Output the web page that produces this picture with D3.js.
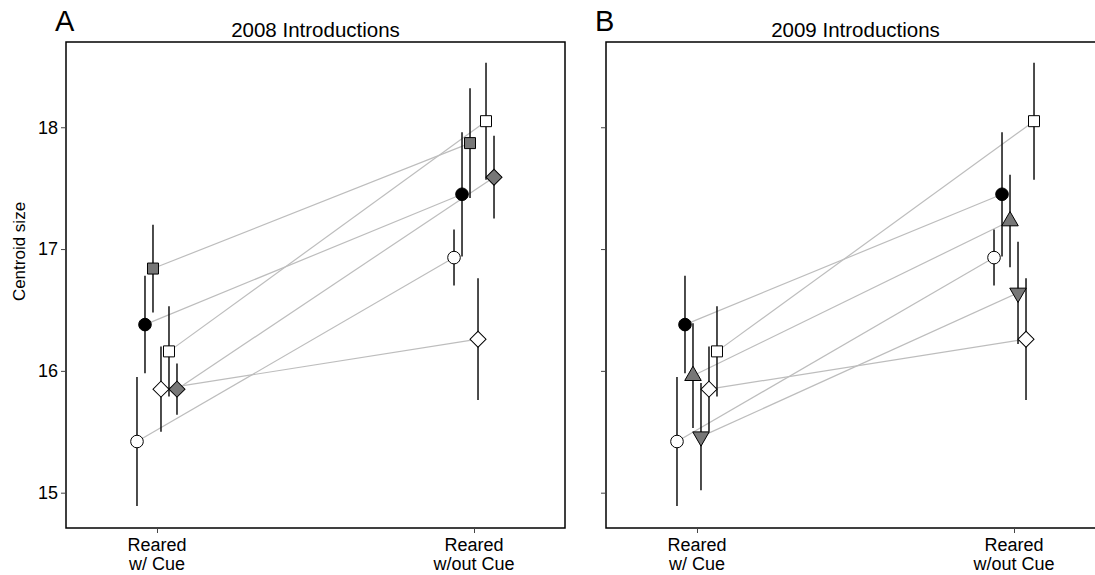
<!DOCTYPE html>
<html>
<head>
<meta charset="utf-8">
<script src="https://cdn.jsdelivr.net/npm/d3@7"></script>
<style>
  body { margin: 0; background: #fff; }
  text { font-family: "Liberation Sans", Arial, Helvetica, sans-serif; }
</style>
</head>
<body>
<svg id="chart" width="1095" height="575"></svg>
<script>
// Treatments along x, and y ticks
const treatments = [["Reared", "w/ Cue"], ["Reared", "w/out Cue"]];
const yTicks = [15, 16, 17, 18];

// 2008 populations (marker style for each), means and error half-widths
const popsA = ["openCircle", "blackCircle", "graySquare", "openDiamond", "openSquare", "grayDiamond"];
const meanA_cue   = [15.42, 16.38, 16.84, 15.85, 16.16, 15.85];
const errA_cue    = [0.53, 0.40, 0.36, 0.35, 0.37, 0.21];
const meanA_nocue = [16.93, 17.45, 17.87, 16.26, 18.05, 17.59];
const errA_nocue  = [0.23, 0.51, 0.45, 0.50, 0.48, 0.34];

// 2009 populations
const popsB = ["openCircle", "blackCircle", "grayUp", "grayDown", "openDiamond", "openSquare"];
const meanB_cue   = [15.42, 16.38, 15.96, 15.46, 15.85, 16.16];
const errB_cue    = [0.53, 0.40, 0.43, 0.44, 0.35, 0.37];
const meanB_nocue = [16.93, 17.45, 17.23, 16.64, 16.26, 18.05];
const errB_nocue  = [0.23, 0.51, 0.38, 0.42, 0.50, 0.48];

// How each marker looks
const markerStyle = {
  openCircle:  {type: d3.symbolCircle,   size: 125, fill: "#fff", rot: 0},
  blackCircle: {type: d3.symbolCircle,   size: 125, fill: "#000", rot: 0},
  graySquare:  {type: d3.symbolSquare,   size: 121, fill: "#777", rot: 0},
  openSquare:  {type: d3.symbolSquare,   size: 121, fill: "#fff", rot: 0},
  openDiamond: {type: d3.symbolSquare,   size: 128, fill: "#fff", rot: 45},
  grayDiamond: {type: d3.symbolSquare,   size: 128, fill: "#777", rot: 45},
  grayUp:      {type: d3.symbolTriangle, size: 118, fill: "#777", rot: 0},
  grayDown:    {type: d3.symbolTriangle, size: 118, fill: "#777", rot: 180}
};

const svg = d3.select("#chart");
const panelW = 499, panelH = 486, marginTop = 42;

const y = d3.scaleLinear().domain([14.71, 18.70]).range([panelH, 0]);
const x = d3.scaleLinear().domain([0.713, 2.287]).range([0, panelW]);

function drawPanel(left, pops, means, errs, title, letter, showLabels) {
  const g = svg.append("g").attr("transform", "translate(" + left + "," + marginTop + ")");
  const offset = d3.scalePoint().domain(pops).range([-20, 20]);

  // rows: one per population per treatment
  let rows = [];
  pops.forEach((p, i) => {
    means.forEach((m, t) => {
      rows.push({pop: p, t: t + 1, mean: m[i], err: errs[t][i]});
    });
  });
  const px = d => x(d.t) + offset(d.pop);

  // Grey lines joining each population across treatments
  pops.forEach((p, i) => {
    g.append("line")
      .attr("x1", x(1) + offset(p)).attr("y1", y(means[0][i]))
      .attr("x2", x(2) + offset(p)).attr("y2", y(means[1][i]))
      .attr("stroke", "#bdbdbd")
      .attr("stroke-width", 1.2);
  });

  // Error bars then markers
  rows.forEach(d => {
    g.append("line")
      .attr("x1", px(d)).attr("x2", px(d))
      .attr("y1", y(d.mean - d.err)).attr("y2", y(d.mean + d.err))
      .attr("stroke", "#111")
      .attr("stroke-width", 1.5);
  });
  rows.forEach(d => {
    const s = markerStyle[d.pop];
    g.append("path")
      .attr("d", d3.symbol().type(s.type).size(s.size)())
      .attr("transform", "translate(" + px(d) + "," + y(d.mean) + ") rotate(" + s.rot + ")")
      .attr("fill", s.fill)
      .attr("stroke", "#000")
      .attr("stroke-width", 1);
  });

  // Box
  g.append("rect")
    .attr("width", panelW).attr("height", panelH)
    .attr("fill", "none").attr("stroke", "#000").attr("stroke-width", 1.5);

  // Y axis ticks
  const yAxis = d3.axisLeft(y).tickValues(yTicks).tickSize(5).tickPadding(3)
    .tickFormat(showLabels ? d3.format("d") : "");
  const ya = g.append("g").call(yAxis);
  ya.select(".domain").remove();
  ya.selectAll("text").attr("font-size", 18).attr("fill", "#000");
  ya.selectAll("line").attr("stroke", "#444");

  // X axis ticks with two-line labels
  const xAxis = d3.axisBottom(x).tickValues([1, 2]).tickSize(5).tickFormat("");
  const xa = g.append("g").attr("transform", "translate(0," + panelH + ")").call(xAxis);
  xa.select(".domain").remove();
  xa.selectAll("line").attr("stroke", "#444");
  treatments.forEach((lab, i) => {
    const tx = g.append("text")
      .attr("x", x(i + 1)).attr("y", panelH + 23)
      .attr("text-anchor", "middle").attr("font-size", 18);
    lab.forEach((line, k) => {
      tx.append("tspan").attr("x", x(i + 1)).attr("dy", k === 0 ? 0 : 18.5).text(line);
    });
  });

  // Titles
  svg.append("text")
    .attr("x", left + panelW / 2).attr("y", marginTop - 5)
    .attr("text-anchor", "middle").attr("font-size", 20.5)
    .text(title);
  svg.append("text")
    .attr("x", left - 11).attr("y", 31)
    .attr("font-size", 29)
    .text(letter);
}

drawPanel(66, popsA, [meanA_cue, meanA_nocue], [errA_cue, errA_nocue], "2008 Introductions", "A", true);
drawPanel(606, popsB, [meanB_cue, meanB_nocue], [errB_cue, errB_nocue], "2009 Introductions", "B", false);

svg.append("text")
  .attr("transform", "translate(25," + (marginTop + y(16.98)) + ") rotate(-90)")
  .attr("text-anchor", "middle").attr("font-size", 17)
  .text("Centroid size");
</script>
</body>
</html>
